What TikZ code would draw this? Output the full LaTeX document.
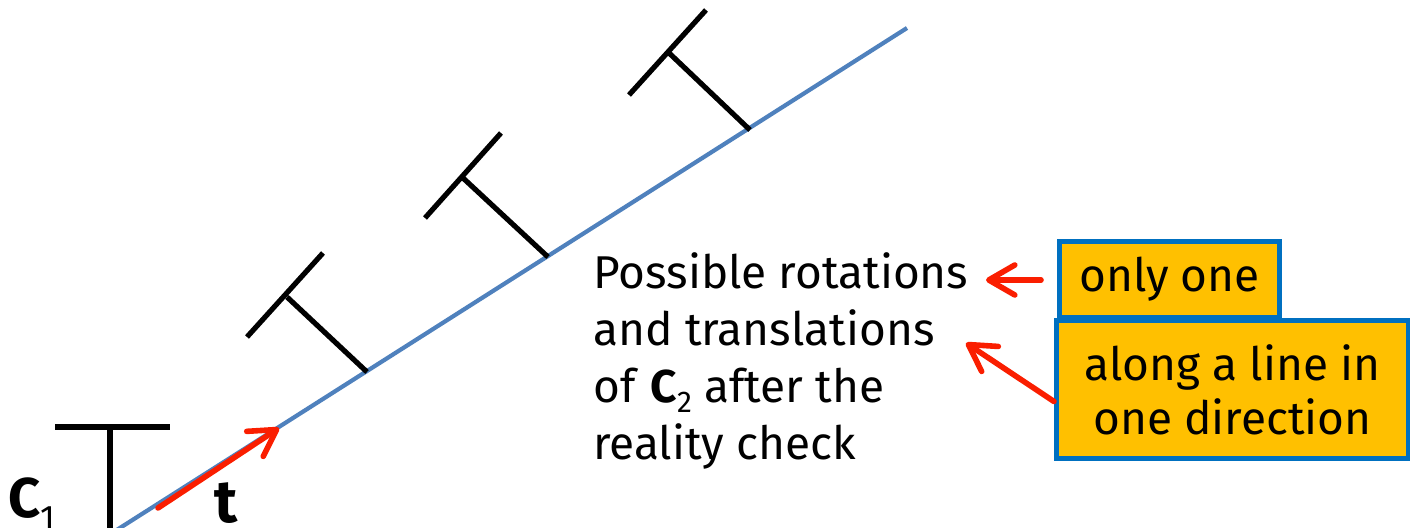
\documentclass[tikz,border=0pt]{standalone}
\usepackage{fontspec}
\setmainfont{Fira Sans}
\usetikzlibrary{arrows.meta}
\definecolor{lineblue}{RGB}{79,129,189}
\definecolor{arrred}{RGB}{250,30,0}
\definecolor{boxfill}{RGB}{255,192,0}
\definecolor{boxedge}{RGB}{0,112,192}
\tikzset{
  axisline/.style={draw=lineblue, line width=2.1pt},
  tbar/.style={draw=black, line width=2.6pt},
  redarrow/.style={draw=arrred, line width=2.8pt, line cap=round,
    -{Straight Barb[length=13pt,width=15pt,round]}},
  bodytext/.style={font=\fontsize{23}{28.5}\selectfont, align=left, inner sep=0pt},
  callout/.style={draw=boxedge, fill=boxfill, line width=2.5pt, inner sep=0pt,
    font=\fontsize{23}{27}\selectfont, align=center, anchor=north west},
}
\begin{document}
\begin{tikzpicture}[x=0.5pt,y=-0.5pt]
\useasboundingbox (0,0) rectangle (1410,528);
\clip (0,0) rectangle (1410,528);
% main line
\coordinate (l0) at (112,533);
\coordinate (l1) at (907,28);
\draw[axisline] (l0) -- (l1);
% C1
\coordinate (c1a) at (55,427);
\coordinate (c1b) at (170,427);
\coordinate (c1t) at (110,427);
\coordinate (c1s) at (110,535);
\draw[tbar] (c1a) -- (c1b);
\draw[tbar] (c1t) -- (c1s);
\node[font=\fontsize{28}{28}\selectfont, anchor=base west, inner sep=0pt] (c1lab) at (8,518) {\textbf{C}\raisebox{-6pt}{\fontsize{17}{17}\selectfont 1}};
% translation t
\coordinate (t0) at (158,508);
\coordinate (t1) at (279,428);
\draw[redarrow] (t0) -- (t1);
\node[font=\fontsize{30}{30}\selectfont\bfseries, anchor=base west, inner sep=0pt] (tlab) at (214,523) {t};
% rotated copies of C2
\coordinate (a1) at (367,372); \coordinate (a2) at (287,297);
\coordinate (a3) at (247,337); \coordinate (a4) at (323,253);
\draw[tbar] (a1) -- (a2); \draw[tbar] (a3) -- (a4);
\coordinate (b1) at (548,257); \coordinate (b2) at (463,178);
\coordinate (b3) at (425,218); \coordinate (b4) at (501,133);
\draw[tbar] (b1) -- (b2); \draw[tbar] (b3) -- (b4);
\coordinate (d1) at (750,130); \coordinate (d2) at (668,52);
\coordinate (d3) at (629,95); \coordinate (d4) at (706,10);
\draw[tbar] (d1) -- (d2); \draw[tbar] (d3) -- (d4);
% description
\node[bodytext, anchor=north west] (desc) at (593,252) {Possible rotations\\and translations\\of \textbf{C}\raisebox{-5pt}{\fontsize{15}{15}\selectfont 2} after the\\reality check};
% callouts
\node[callout, minimum width=110pt, minimum height=38pt] (one) at (1057,239) {only one};
\node[callout, minimum width=176pt, minimum height=69pt] (along) at (1054,318) {along a line in\\one direction};
\coordinate (tip1) at (986,280);
\coordinate (tip2) at (966,343);
\draw[redarrow] (one.west |- tip1) ++(-16,0) coordinate (s1) (s1) -- (tip1);
\draw[redarrow] (along.west) ++(0,12) coordinate (s2) (s2) -- (tip2);
\end{tikzpicture}
\end{document}
